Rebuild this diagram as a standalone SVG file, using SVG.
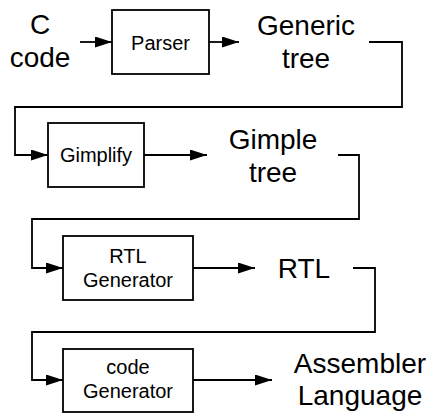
<svg xmlns="http://www.w3.org/2000/svg" width="433" height="413" viewBox="0 0 433 413">
  <defs>
    <marker id="arrow" markerUnits="userSpaceOnUse" markerWidth="18" markerHeight="12" refX="17" refY="5.5" orient="auto">
      <path d="M0,0 L17,5.5 L0,11 Z" fill="#000"/>
    </marker>
    <style>
      .box { fill: #fff; stroke: #000; stroke-width: 1.8; }
      .wire { fill: none; stroke: #000; stroke-width: 1.8; }
      .big { font-family: "Liberation Sans", Arial, sans-serif; font-size: 28px; fill: #000; text-anchor: middle; }
      .small { font-family: "Liberation Sans", Arial, sans-serif; font-size: 20px; fill: #000; text-anchor: middle; }
    </style>
  </defs>
  <rect width="433" height="413" fill="#fff"/>

  <!-- stage connectors -->
  <g id="connectors">
    <line class="wire" x1="80" y1="42" x2="112" y2="42" marker-end="url(#arrow)"/>
    <line class="wire" x1="209" y1="42" x2="239" y2="42" marker-end="url(#arrow)"/>
    <path class="wire" d="M369,42 H402 V107 H15 V155 H48" marker-end="url(#arrow)"/>
    <line class="wire" x1="144" y1="155" x2="207" y2="155" marker-end="url(#arrow)"/>
    <path class="wire" d="M338,155 H359 V219 H32 V268 H63" marker-end="url(#arrow)"/>
    <line class="wire" x1="193" y1="268" x2="255" y2="268" marker-end="url(#arrow)"/>
    <path class="wire" d="M353,268 H375 V332 H32 V380 H63" marker-end="url(#arrow)"/>
    <line class="wire" x1="193" y1="380" x2="272" y2="380" marker-end="url(#arrow)"/>
  </g>

  <!-- source -->
  <g id="c-code">
    <text class="big" x="40" y="34">C</text>
    <text class="big" x="40" y="67">code</text>
  </g>

  <g id="parser">
    <rect class="box" x="112" y="10" width="97" height="64"/>
    <text class="small" x="160.5" y="50" font-size="21">Parser</text>
  </g>

  <g id="generic-tree">
    <text class="big" x="306" y="35">Generic</text>
    <text class="big" x="306" y="68">tree</text>
  </g>

  <g id="gimplify">
    <rect class="box" x="48" y="123" width="96" height="64"/>
    <text class="small" x="96" y="162" font-size="21">Gimplify</text>
  </g>

  <g id="gimple-tree">
    <text class="big" x="273" y="149">Gimple</text>
    <text class="big" x="273" y="182">tree</text>
  </g>

  <g id="rtl-generator">
    <rect class="box" x="63" y="236" width="130" height="64"/>
    <text class="small" x="128" y="263">RTL</text>
    <text class="small" x="128" y="287">Generator</text>
  </g>

  <g id="rtl">
    <text class="big" x="304" y="278">RTL</text>
  </g>

  <g id="code-generator">
    <rect class="box" x="63" y="349" width="130" height="63"/>
    <text class="small" x="128" y="374">code</text>
    <text class="small" x="128" y="398">Generator</text>
  </g>

  <g id="assembler-language">
    <text class="big" x="360" y="373">Assembler</text>
    <text class="big" x="360" y="405">Language</text>
  </g>
</svg>
